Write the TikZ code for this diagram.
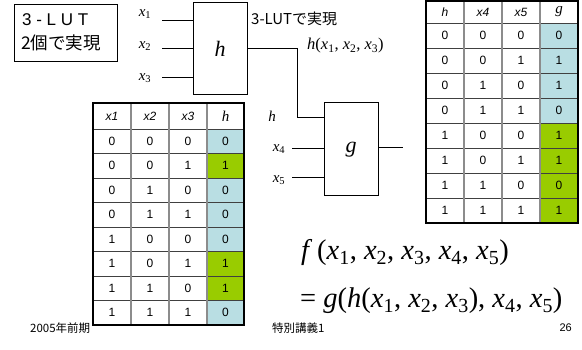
\documentclass[tikz,border=0pt]{standalone}
\usepackage{fontspec}
\setmainfont{Liberation Serif}
\setsansfont{Liberation Sans}
\newfontfamily\jp{Noto Sans CJK JP}
\definecolor{cellblue}{RGB}{185,222,227}
\definecolor{cellgreen}{RGB}{153,204,0}
\newcommand\vx[1]{\textit{x}\textsubscript{\upshape #1}}
\newcommand\fs[1]{\fontsize{#1}{#1}\selectfont}
\begin{document}
\begin{tikzpicture}[x=1pt,y=-1pt,
  lutbox/.style={draw,line width=1pt,minimum width=54pt,minimum height=92pt,inner sep=0pt},
  wire/.style={line width=0.9pt},
  lbl/.style={inner sep=0pt,font=\fs{15}},
  cell/.style={inner sep=0pt,font=\sffamily\fs{12}},
  hline/.style={line width=0.8pt,black!75},
  vline/.style={line width=1.2pt,black!45},
  border/.style={line width=1.6pt,black}]
\useasboundingbox (0,0) rectangle (582,350);

% top-left title box
\draw[line width=1pt] (14,5) rectangle (117,62);
\node[anchor=west,inner sep=0pt,font=\sffamily\fs{17}] (t1) at (22,20) {3 - L U T};
\node[anchor=west,inner sep=0pt,font=\jp\fs{17.5}] (t2) at (21,43) {2個で実現};

% h LUT
\node[lutbox] (hbox) at (220,49) {\fs{22}\textit{h}};
\coordinate (i1) at (162,20);
\coordinate (i2) at (162,48);
\coordinate (i3) at (162,77);
\node[lbl] (lx1) at (145,14) {\vx{1}};
\node[lbl] (lx2) at (145,46) {\vx{2}};
\node[lbl] (lx3) at (145,78) {\vx{3}};
\draw[wire] (i1) -- (i1 -| hbox.west);
\draw[wire] (i2) -- (i2 -| hbox.west);
\draw[wire] (i3) -- (i3 -| hbox.west);
\node[anchor=west,inner sep=0pt,font=\jp\fs{15}] (lutnote) at (251,19) {3-LUTで実現};
\node[anchor=west,inner sep=0pt,font=\fs{16.5}] (hfun) at (307,46) {\textit{h}(\vx{1}, \vx{2}, \vx{3})};

% g LUT
\node[lutbox,minimum height=93pt] (gbox) at (351,149.5) {\fs{22}\textit{g}};
\coordinate (hin) at (324,117);
\draw[wire] (hbox.east |- i2) -- (297,48) -- (297,117) -- (hin);
\coordinate (i4) at (292,148);
\coordinate (i5) at (292,177);
\coordinate (gout) at (403,147);
\node[lbl] (lh) at (272,116) {\textit{h}};
\node[lbl] (lx4) at (279,149) {\vx{4}};
\node[lbl] (lx5) at (279,180) {\vx{5}};
\draw[wire] (i4) -- (i4 -| gbox.west);
\draw[wire] (i5) -- (i5 -| gbox.west);
\draw[wire] (gbox.east |- gout) -- (gout);

% left table (h)
\def\Lhead{129}\def\Lr{24.5}
\foreach \a/\b/\c/\v/\col [count=\r] in {0/0/0/0/cellblue,0/0/1/1/cellgreen,0/1/0/0/cellblue,0/1/1/0/cellblue,1/0/0/0/cellblue,1/0/1/1/cellgreen,1/1/0/1/cellgreen,1/1/1/0/cellblue}{
  \fill[\col] (207,{\Lhead+(\r-1)*\Lr}) rectangle (244,{\Lhead+\r*\Lr});
  \node[cell] (L\r a) at (112,{\Lhead+(\r-0.5)*\Lr}) {\a};
  \node[cell] (L\r b) at (150,{\Lhead+(\r-0.5)*\Lr}) {\b};
  \node[cell] (L\r c) at (188,{\Lhead+(\r-0.5)*\Lr}) {\c};
  \node[cell] (L\r d) at (225.5,{\Lhead+(\r-0.5)*\Lr}) {\v};
}
\foreach \r in {0,...,7}{ \draw[hline] (93,{\Lhead+\r*\Lr}) -- (244,{\Lhead+\r*\Lr}); }
\foreach \xx in {131,169,207}{ \draw[vline] (\xx,103) -- (\xx,325); }
\draw[border] (93,103) rectangle (244,325);
\node[cell,font=\sffamily\itshape\fs{12}] (Lh1) at (112,116) {x1};
\node[cell,font=\sffamily\itshape\fs{12}] (Lh2) at (150,116) {x2};
\node[cell,font=\sffamily\itshape\fs{12}] (Lh3) at (188,116) {x3};
\node[cell,font=\itshape\fs{15}] (Lh4) at (225.5,116) {h};

% right table (g)
\def\Rhead{23}\def\Rr{25}
\foreach \a/\b/\c/\v/\col [count=\r] in {0/0/0/0/cellblue,0/0/1/1/cellblue,0/1/0/1/cellblue,0/1/1/0/cellblue,1/0/0/1/cellgreen,1/0/1/1/cellgreen,1/1/0/0/cellgreen,1/1/1/1/cellgreen}{
  \fill[\col] (540,{\Rhead+(\r-1)*\Rr}) rectangle (578,{\Rhead+\r*\Rr});
  \node[cell] (R\r a) at (445,{\Rhead+(\r-0.5)*\Rr}) {\a};
  \node[cell] (R\r b) at (483,{\Rhead+(\r-0.5)*\Rr}) {\b};
  \node[cell] (R\r c) at (521,{\Rhead+(\r-0.5)*\Rr}) {\c};
  \node[cell] (R\r d) at (559,{\Rhead+(\r-0.5)*\Rr}) {\v};
}
\foreach \r in {0,...,7}{ \draw[hline] (426,{\Rhead+\r*\Rr}) -- (578,{\Rhead+\r*\Rr}); }
\foreach \xx in {464,502,540}{ \draw[vline] (\xx,1) -- (\xx,223); }
\draw[border] (426,1) rectangle (578,223);
\node[cell,font=\sffamily\itshape\fs{12}] (Rh1) at (445,12) {h};
\node[cell,font=\sffamily\itshape\fs{12}] (Rh2) at (483,12) {x4};
\node[cell,font=\sffamily\itshape\fs{12}] (Rh3) at (521,12) {x5};
\node[cell,font=\itshape\fs{15}] (Rh4) at (559,12) {g};

% formula
\node[anchor=west,inner sep=0pt,font=\fs{28.5}] (f1) at (301,253) {\textit{f}\,(\vx{1}, \vx{2}, \vx{3}, \vx{4}, \vx{5})};
\node[anchor=west,inner sep=0pt,font=\fs{28.5}] (f2) at (300,301) {= \textit{g}(\textit{h}(\vx{1}, \vx{2}, \vx{3}), \vx{4}, \vx{5})};

% footer
\node[anchor=west,inner sep=0pt,font=\jp\fs{11.5}] (ft1) at (30,328) {2005年前期};
\node[anchor=west,inner sep=0pt,font=\jp\fs{11.5}] (ft2) at (272,328) {特別講義1};
\node[anchor=east,inner sep=0pt,font=\sffamily\fs{11}] (ft3) at (572,328) {26};
\end{tikzpicture}
\end{document}
